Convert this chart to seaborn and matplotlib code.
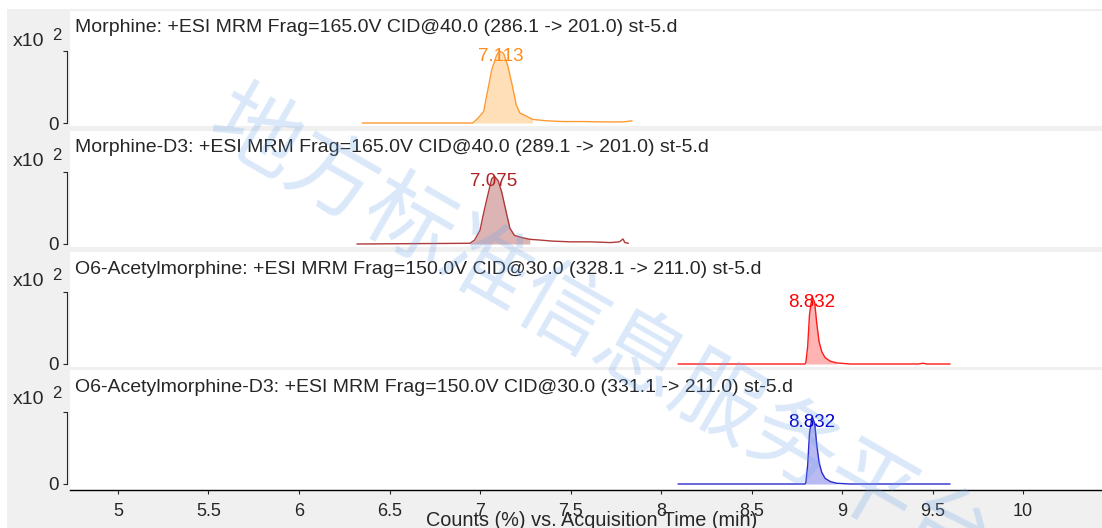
import numpy as np
import seaborn as sns
import matplotlib.pyplot as plt
from matplotlib.patches import Rectangle

sns.set_style("white")
plt.rcParams['font.family'] = ['Liberation Sans', 'Noto Sans CJK SC', 'DejaVu Sans']

# traces (time in min, counts in x10^2)
t_morphine = [6.35, 6.96, 6.99, 7.02, 7.04, 7.065, 7.09, 7.105, 7.13, 7.155, 7.18, 7.20,
              7.22, 7.26, 7.29, 7.37, 7.46, 7.57, 7.68, 7.79, 7.84]
i_morphine = [0, 0, 0.07, 0.16, 0.42, 0.74, 0.93, 1.0, 0.97, 0.78, 0.50, 0.25,
              0.14, 0.09, 0.05, 0.03, 0.02, 0.02, 0.015, 0.015, 0.03]

t_morphine_d3 = [6.32, 6.945, 6.97, 7.00, 7.02, 7.045, 7.065, 7.08, 7.10, 7.12, 7.145, 7.165,
                 7.19, 7.23, 7.275, 7.33, 7.40, 7.50, 7.61, 7.72, 7.77, 7.79, 7.80, 7.82]
i_morphine_d3 = [0, 0.01, 0.055, 0.19, 0.43, 0.70, 0.91, 0.94, 0.88, 0.72, 0.44, 0.22,
                 0.12, 0.09, 0.065, 0.055, 0.04, 0.03, 0.03, 0.02, 0.03, 0.07, 0.02, 0.01]

t_6am = [8.094, 8.795, 8.80, 8.81, 8.82, 8.829, 8.838, 8.849, 8.86, 8.873, 8.888, 8.906,
         8.934, 8.97, 9.044, 9.42, 9.447, 9.47, 9.597]
i_6am = [0, 0, 0.02, 0.24, 0.68, 0.85, 0.92, 0.85, 0.57, 0.31, 0.17, 0.09,
         0.04, 0.015, 0, 0, 0.01, 0, 0]

t_6am_d3 = [8.094, 8.795, 8.80, 8.81, 8.82, 8.829, 8.838, 8.849, 8.86, 8.873, 8.888, 8.906,
            8.934, 8.97, 9.044, 9.597]
i_6am_d3 = [0, 0, 0.02, 0.26, 0.70, 0.86, 0.92, 0.84, 0.55, 0.30, 0.16, 0.08,
            0.035, 0.01, 0, 0]

titles = [
    "Morphine: +ESI MRM Frag=165.0V CID@40.0 (286.1 -> 201.0) st-5.d",
    "Morphine-D3: +ESI MRM Frag=165.0V CID@40.0 (289.1 -> 201.0) st-5.d",
    "O6-Acetylmorphine: +ESI MRM Frag=150.0V CID@30.0 (328.1 -> 211.0) st-5.d",
    "O6-Acetylmorphine-D3: +ESI MRM Frag=150.0V CID@30.0 (331.1 -> 211.0) st-5.d",
]
peak_labels = ["7.113", "7.075", "8.832", "8.832"]
peak_rt = [7.113, 7.075, 8.832, 8.832]
fill_ranges = [(6.96, 7.30), (6.945, 7.28), (8.795, 8.97), (8.795, 8.97)]

traces = [(t_morphine, i_morphine), (t_morphine_d3, i_morphine_d3),
          (t_6am, i_6am), (t_6am_d3, i_6am_d3)]
line_colors = ['#ff9a33', '#b03a3a', '#ff1a1a', '#2b2bd0']
fill_colors = ['#ffdfb8', '#dcb4b4', '#ffb4b4', '#babaf2']
label_colors = ['#ff8c1a', '#b22222', '#ff0000', '#0000cd']

W, H = 1102, 528
fig = plt.figure(figsize=(W / 100, H / 100), dpi=100)
fig.patch.set_facecolor('white')
fig.patches.append(Rectangle((7 / W, 0), 1 - 7 / W, 1 - 9 / H, transform=fig.transFigure,
                             facecolor='#f0f0f0', edgecolor='none', zorder=-10))

# panel boxes in pixels: top, bottom, zero line
panels = [(11, 126, 123), (131, 247, 244), (252, 367, 364), (370, 490, 484)]
px_per_unit = 72.0
left_px = 70
xlim = (4.735, 10.436)

axes = []
for k, (top, bot, zero) in enumerate(panels):
    ax = fig.add_axes([left_px / W, 1 - bot / H, (W - left_px) / W, (bot - top) / H])
    ax.set_facecolor('white')
    t, v = traces[k]
    t = np.array(t)
    v = np.array(v)
    lo, hi = fill_ranges[k]
    m = (t >= lo) & (t <= hi)
    ax.fill_between(t[m], 0, v[m], color=fill_colors[k], linewidth=0, zorder=1)
    sns.lineplot(x=t, y=v, ax=ax, color=line_colors[k], linewidth=1.0, estimator=None, zorder=2)
    ax.set_xlim(*xlim)
    ax.set_ylim(-(bot - zero) / px_per_unit, (zero - top) / px_per_unit)
    ax.text(peak_rt[k], v.max() - 0.07, peak_labels[k], ha='center', va='center',
            color=label_colors[k], fontsize=13.5, zorder=3)
    ax.annotate(titles[k], xy=(0, 1), xycoords='axes fraction', xytext=(5, -17),
                textcoords='offset pixels', ha='left', va='center', fontsize=14)
    for s in ['top', 'right', 'bottom']:
        ax.spines[s].set_visible(False)
    ax.spines['left'].set_bounds(0, 1)
    ax.spines['left'].set_position(('outward', 2))
    ax.spines['left'].set_linewidth(0.8)
    ax.set_yticks([0, 1])
    ax.set_yticklabels(['0', ''])
    ax.tick_params(axis='y', length=3, width=0.8, pad=3, labelsize=13.5, left=True)
    ax.set_xlabel('')
    ax.set_ylabel('')
    # x10^2 multiplier above the top tick
    shift = (top - 11) / H
    fig.text(13 / W, 1 - 41 / H - shift, 'x10', fontsize=14, ha='left', va='center')
    fig.text(52 / W, 1 - 35 / H - shift, '2', fontsize=12, ha='left', va='center')
    if k < 3:
        ax.set_xticks([])
    axes.append(ax)

ax = axes[-1]
ax.spines['bottom'].set_visible(True)
ax.spines['bottom'].set_color('black')
ax.spines['bottom'].set_linewidth(1.0)
xt = np.arange(5, 10.01, 0.5)
ax.set_xticks(xt)
ax.set_xticklabels([f"{x:g}" for x in xt])
ax.tick_params(axis='x', length=3, width=0.8, pad=6, labelsize=13, bottom=True)

fig.text(592 / W, 1 - 520 / H, 'Counts (%) vs. Acquisition Time (min)', fontsize=14.3,
         ha='center', va='center')

# watermark
fig.text(600 / W, 1 - 336 / H, '地方标准信息服务平台', fontsize=64,
         family=['Noto Sans CJK SC'], color='#6aa5ea', alpha=0.25,
         rotation=-30, rotation_mode='anchor', ha='center', va='center', zorder=5)

fig.savefig('out.png', dpi=100, facecolor=fig.get_facecolor())
